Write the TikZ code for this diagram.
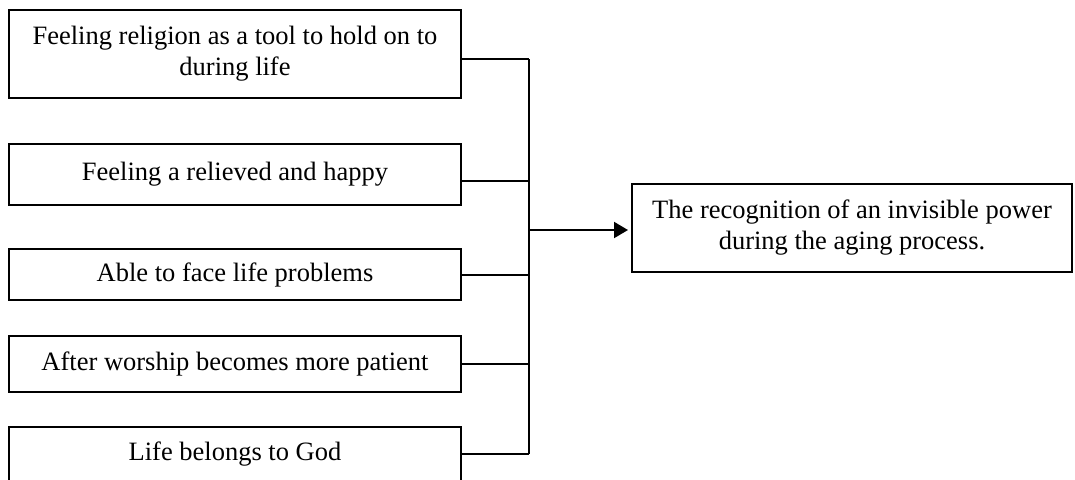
\documentclass[tikz,border=0pt]{standalone}
\usepackage{fontspec}
\setmainfont{Liberation Serif}
\usetikzlibrary{arrows.meta}
\begin{document}
\begin{tikzpicture}[x=0.5pt,y=-0.5pt,
  box/.style={draw=black, line width=1pt, inner sep=0pt, align=center,
    font=\fontsize{13.25}{15.5}\selectfont, minimum width=226pt},
  conn/.style={line width=1pt},
  bus/.style={line width=1.2pt}]
\useasboundingbox (0,0) rectangle (1075,479);
\node[box, minimum height=44pt] (b1) at (235,54) {Feeling religion as a tool to hold on to\\during life};
\node[box, minimum height=30.5pt] (b2) at (235,174.5) {Feeling a relieved and happy};
\node[box, minimum height=25.5pt] (b3) at (235,274.5) {Able to face life problems};
\node[box, minimum height=28pt] (b4) at (235,364) {After worship becomes more patient};
\node[box, minimum height=27.5pt] (b5) at (235,454.5) {Life belongs to God};
\node[box, minimum width=220pt, minimum height=44pt] (r) at (852,228) {The recognition of an invisible power\\during the aging process.};
\coordinate (j1) at (529,59);
\coordinate (j2) at (529,181);
\coordinate (j3) at (529,275);
\coordinate (j4) at (529,364);
\coordinate (j5) at (529,454);
\coordinate (ja) at (529,230);
\draw[conn] (b1.east |- j1) -- (j1);
\draw[conn] (b2.east |- j2) -- (j2);
\draw[conn] (b3.east |- j3) -- (j3);
\draw[conn] (b4.east |- j4) -- (j4);
\draw[conn] (b5.east |- j5) -- (j5);
\draw[bus] (j1) -- (j5);
\draw[conn, -{Triangle[length=7pt,width=8pt]}, shorten >=1.5pt] (ja) -- (r.west |- ja);
\end{tikzpicture}
\end{document}
